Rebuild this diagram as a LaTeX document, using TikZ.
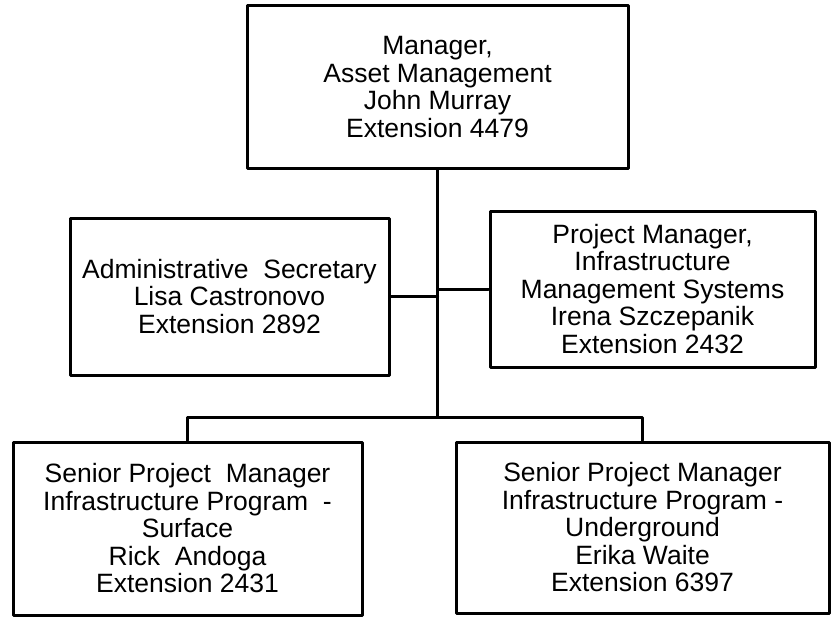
\documentclass[tikz,border=0pt]{standalone}
\usepackage{fontspec}
\setmainfont{Liberation Sans}
\usetikzlibrary{calc}

\tikzset{box/.style={draw,line width=3pt,inner sep=0pt,align=center,font=\fontsize{26.5}{27.5}\selectfont},
link/.style={line width=3pt}}

\begin{document}
\begin{tikzpicture}[line cap=round,line join=round,x=1pt,y=-1pt]
\useasboundingbox (0,0) rectangle (832,618);
\node[box,minimum width=381,minimum height=162] (mgr) at (437.5,87) {Manager,\\Asset Management\\John Murray\\Extension 4479};
\node[box,minimum width=319,minimum height=157] (sec) at (229.5,296.5) {Administrative\ \ Secretary\\Lisa Castronovo\\Extension 2892};
\node[box,minimum width=325,minimum height=156] (pm) at (652.5,289) {Project Manager,\\Infrastructure\\Management Systems\\Irena Szczepanik\\Extension 2432};
\node[box,minimum width=349,minimum height=173] (spmS) at (187.5,528.5) {Senior Project\ \ Manager\\Infrastructure Program\ \ -\\Surface\\Rick\ \ Andoga\\Extension 2431};
\node[box,minimum width=373,minimum height=171] (spmU) at (642.5,527.5) {Senior Project Manager\\Infrastructure Program -\\Underground\\Erika Waite\\Extension 6397};
\coordinate (bus) at (437.5,417);
\draw[link] (mgr) -- (mgr |- bus);
\draw[link] (sec) -- (sec -| mgr);
\draw[link] (pm) -- (pm -| mgr);
\draw[link] (spmS) |- (bus) -| (spmU);
\end{tikzpicture}
\end{document}
